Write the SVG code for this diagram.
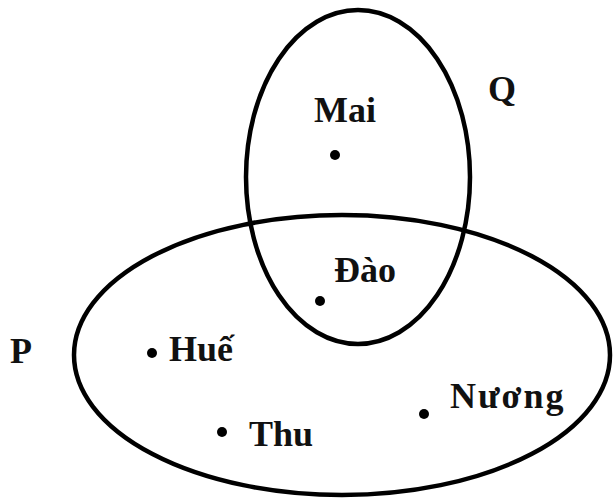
<svg xmlns="http://www.w3.org/2000/svg" width="613" height="502" viewBox="0 0 613 502">
<style>
.set{fill:none;stroke:#000;stroke-width:4.5}
.lbl{font-family:"Liberation Serif","Times New Roman",serif;font-weight:bold;font-size:36px;fill:#111}
.dot{fill:#000}
</style>
<rect width="613" height="502" fill="#fff"/>
<g id="setQ"><ellipse class="set" cx="358" cy="177" rx="112" ry="167"/><text class="lbl" x="488" y="101">Q</text></g>
<g id="setP"><ellipse class="set" cx="342" cy="355" rx="268" ry="140"/><text class="lbl" x="10" y="363">P</text></g>
<g id="mai"><circle class="dot" cx="335" cy="155" r="5"/><text class="lbl" x="314" y="122">Mai</text></g>
<g id="dao"><circle class="dot" cx="320" cy="301" r="5"/><text class="lbl" x="334" y="282">Đào</text></g>
<g id="hue"><circle class="dot" cx="152" cy="353" r="5"/><text class="lbl" x="169" y="361">Huế</text></g>
<g id="thu"><circle class="dot" cx="222" cy="432" r="5"/><text class="lbl" x="249" y="446">Thu</text></g>
<g id="nuong"><circle class="dot" cx="424" cy="414" r="5"/><text class="lbl" x="450" y="408" letter-spacing="2">Nương</text></g>
</svg>
